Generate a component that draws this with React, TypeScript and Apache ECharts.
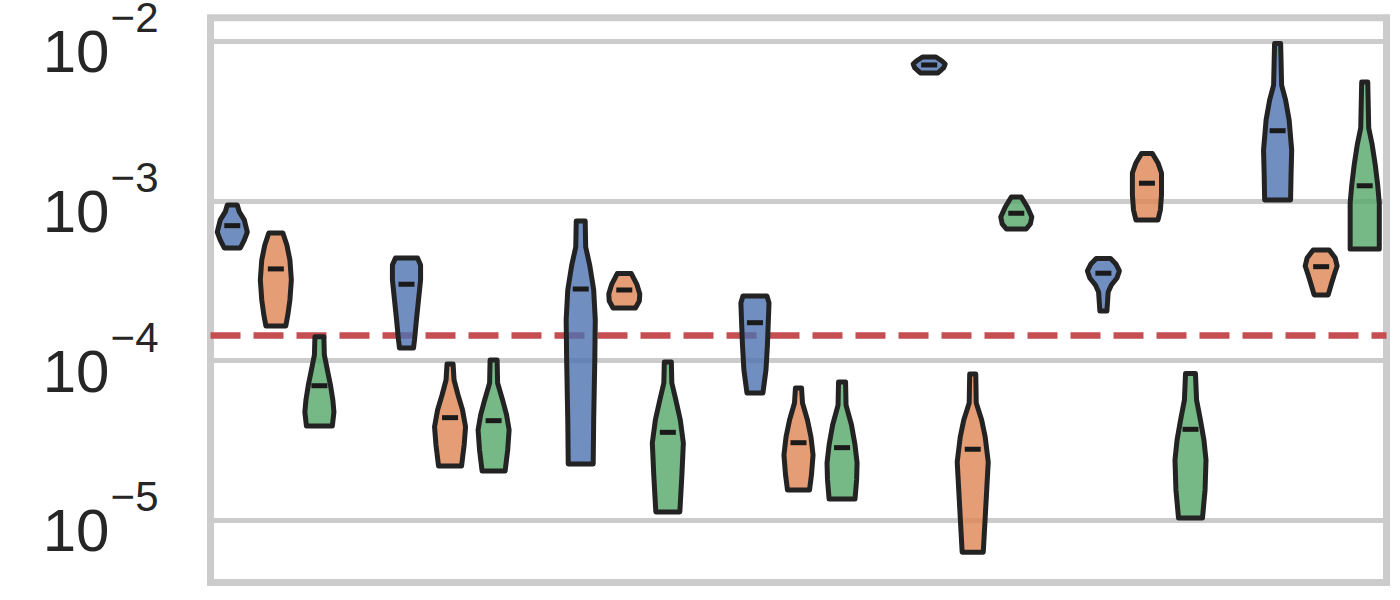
import React, { useEffect, useRef } from "react";
import * as echarts from "echarts";

// Group positions (7 groups, 3 hues each) — x is a plain numeric axis
const groups = [0, 1, 2, 3, 4, 5, 6];
const hueOffsets = [-0.25, 0, 0.25];

// Y values are stored as log10 of the measured quantity
const yTickExponents = [-5, -4, -3, -2];
const thresholdLog10 = -3.839; // ≈ 1.45e-4

// Medians (log10)
const blueMedians = [-3.154, -3.521, -3.551, -3.762, -2.147, -3.452, -2.559];
const orangeMedians = [-3.425, -4.357, -3.557, -4.514, -4.555, -2.888, -3.411];
const greenMedians = [-4.157, -4.376, -4.449, -4.545, -3.076, -4.43, -2.904];

// Violin outlines: [log10 value, relative half-width (1 = widest)], top → bottom
const blueProfiles: number[][][] = [
  [[-3.024, 0.31], [-3.068, 0.44], [-3.118, 0.75], [-3.194, 0.94], [-3.244, 0.75], [-3.294, 0.5]],
  [[-3.357, 0.69], [-3.4, 0.88], [-3.494, 0.88], [-3.62, 0.75], [-3.745, 0.62], [-3.87, 0.5], [-3.92, 0.44]],
  [[-3.125, 0.28], [-3.288, 0.31], [-3.4, 0.56], [-3.557, 0.81], [-3.745, 0.91], [-3.996, 0.88], [-4.372, 0.81], [-4.647, 0.78]],
  [[-3.595, 0.75], [-3.638, 0.88], [-3.745, 0.84], [-3.902, 0.78], [-4.058, 0.69], [-4.202, 0.5]],
  [[-2.097, 0.42], [-2.122, 0.8], [-2.141, 1.0], [-2.166, 0.9], [-2.197, 0.55]],
  [[-3.36, 0.45], [-3.394, 0.78], [-3.438, 1.0], [-3.482, 0.85], [-3.526, 0.5], [-3.57, 0.3], [-3.689, 0.22]],
  [[-2.013, 0.19], [-2.273, 0.25], [-2.367, 0.5], [-2.492, 0.72], [-2.68, 0.88], [-2.837, 0.84], [-2.993, 0.81]],
];
const orangeProfiles: number[][][] = [
  [[-3.2, 0.44], [-3.275, 0.69], [-3.369, 0.88], [-3.494, 0.97], [-3.62, 0.88], [-3.714, 0.75], [-3.783, 0.62]],
  [[-4.021, 0.19], [-4.121, 0.25], [-4.215, 0.5], [-4.309, 0.78], [-4.415, 0.97], [-4.528, 0.88], [-4.66, 0.72]],
  [[-3.454, 0.44], [-3.52, 0.78], [-3.582, 0.97], [-3.626, 0.94], [-3.67, 0.7]],
  [[-4.171, 0.19], [-4.265, 0.25], [-4.372, 0.56], [-4.478, 0.78], [-4.591, 0.91], [-4.716, 0.81], [-4.81, 0.69]],
  [[-4.083, 0.19], [-4.265, 0.22], [-4.372, 0.56], [-4.478, 0.78], [-4.635, 0.97], [-4.873, 0.84], [-5.2, 0.66]],
  [[-2.702, 0.34], [-2.761, 0.69], [-2.824, 0.91], [-2.962, 0.91], [-3.056, 0.84], [-3.118, 0.69]],
  [[-3.306, 0.5], [-3.357, 0.88], [-3.407, 1.0], [-3.463, 0.81], [-3.526, 0.62], [-3.588, 0.44]],
];
const greenProfiles: number[][][] = [
  [[-3.85, 0.28], [-3.964, 0.31], [-4.058, 0.5], [-4.152, 0.69], [-4.246, 0.84], [-4.321, 0.91], [-4.409, 0.81]],
  [[-3.996, 0.22], [-4.14, 0.25], [-4.246, 0.56], [-4.34, 0.81], [-4.434, 0.97], [-4.56, 0.88], [-4.691, 0.72]],
  [[-4.008, 0.22], [-4.14, 0.25], [-4.246, 0.5], [-4.372, 0.78], [-4.516, 0.97], [-4.716, 0.88], [-4.948, 0.75]],
  [[-4.133, 0.22], [-4.278, 0.25], [-4.403, 0.59], [-4.528, 0.81], [-4.641, 0.94], [-4.747, 0.91], [-4.867, 0.81]],
  [[-2.974, 0.31], [-3.037, 0.69], [-3.1, 0.97], [-3.143, 0.88], [-3.175, 0.62]],
  [[-4.08, 0.31], [-4.246, 0.38], [-4.372, 0.62], [-4.497, 0.84], [-4.622, 0.97], [-4.81, 0.91], [-4.986, 0.75]],
  [[-2.254, 0.19], [-2.542, 0.25], [-2.649, 0.47], [-2.774, 0.66], [-2.899, 0.81], [-3.012, 0.91], [-3.3, 0.91]],
];

const HALF_WIDTH = 0.0918; // x-units for relative width 1
const EDGE = "#232323";
const MEDIAN = "#1a1a1a";
const FILLS = ["rgba(76,114,176,0.8)", "rgba(221,132,82,0.8)", "rgba(85,168,104,0.8)"];
const TEXT = "#262626";
const FONT = "'Liberation Sans', Arial, sans-serif";

const Y_MIN = -5.39;
const Y_MAX = -1.8515;

function isDecade(v: number) {
  const r = Math.round(v);
  return Math.abs(v - r) < 1e-6 && yTickExponents.includes(r);
}

function makeRender(profiles: number[][][], fill: string) {
  return (params: any, api: any) => {
    const i = params.dataIndex;
    const x0 = api.value(0);
    const prof = profiles[i];
    const right = prof.map(([v, w]) => api.coord([x0 + w * HALF_WIDTH, v]));
    const left = prof
      .slice()
      .reverse()
      .map(([v, w]) => api.coord([x0 - w * HALF_WIDTH, v]));
    const m = api.coord([x0, api.value(1)]);
    return {
      type: "group",
      children: [
        {
          type: "polygon",
          shape: { points: right.concat(left) },
          style: { fill, stroke: EDGE, lineWidth: 5, lineJoin: "round" },
        },
        {
          type: "rect",
          shape: { x: m[0] - 8, y: m[1] - 2.5, width: 16, height: 5 },
          style: { fill: MEDIAN },
        },
      ],
    };
  };
}

export default function App() {
  const ref = useRef<HTMLDivElement>(null);
  useEffect(() => {
    if (!ref.current) return;
    const chart = echarts.init(ref.current, null, { renderer: "svg" });
    const hueSets = [
      { name: "blue", med: blueMedians, prof: blueProfiles },
      { name: "orange", med: orangeMedians, prof: orangeProfiles },
      { name: "green", med: greenMedians, prof: greenProfiles },
    ];
    const violinSeries = hueSets.map((h, k) => ({
      type: "custom",
      name: h.name,
      z: 6,
      yAxisIndex: 0,
      renderItem: makeRender(h.prof, FILLS[k]),
      encode: { x: 0, y: 1 },
      data: groups.map((g, i) => [g + hueOffsets[k], h.med[i]]),
    }));
    const baseY = {
      type: "value",
      position: "left",
      min: Y_MIN,
      max: Y_MAX,
      splitNumber: 3,
      minInterval: 1,
      maxInterval: 1,
      axisLine: { show: false },
      axisTick: { show: false },
    };
    chart.setOption({
      animation: false,
      backgroundColor: "#ffffff",
      grid: {
        left: 210.5,
        right: 13.5,
        top: 17.8,
        bottom: 17.5,
        show: true,
        borderColor: "#cccccc",
        borderWidth: 7,
        backgroundColor: "transparent",
        containLabel: false,
        outerBoundsMode: "none",
      },
      xAxis: {
        type: "value",
        min: -0.375,
        max: 6.375,
        axisLine: { show: false },
        axisTick: { show: false },
        axisLabel: { show: false },
        splitLine: { show: false },
      },
      yAxis: [
        {
          ...baseY,
          splitLine: { show: true, lineStyle: { color: "#cccccc", width: 5 } },
          axisLabel: {
            margin: 101,
            fontSize: 60,
            fontFamily: FONT,
            color: TEXT,
            verticalAlign: "top",
            lineHeight: 21,
            formatter: (v: number) => (isDecade(v) ? "10" : ""),
          },
        },
        {
          ...baseY,
          splitLine: { show: false },
          axisLabel: {
            margin: 52,
            fontSize: 42,
            fontFamily: FONT,
            color: TEXT,
            verticalAlign: "bottom",
            lineHeight: 47,
            formatter: (v: number) => (isDecade(v) ? `\u2212${Math.abs(Math.round(v))}` : ""),
          },
        },
      ],
      series: [
        {
          type: "line",
          name: "threshold",
          z: 1,
          yAxisIndex: 0,
          data: [],
          symbol: "none",
          markLine: {
            z: 1,
            silent: true,
            symbol: "none",
            label: { show: false },
            lineStyle: { color: "#c44e52", width: 6.5, type: [30, 13] },
            data: [{ yAxis: thresholdLog10 }],
          },
        },
        ...violinSeries,
      ],
    });
    return () => chart.dispose();
  }, []);
  return (
    <div
      ref={ref}
      style={{ position: "absolute", left: 0, top: 0, width: 1400, height: 600 }}
    />
  );
}
